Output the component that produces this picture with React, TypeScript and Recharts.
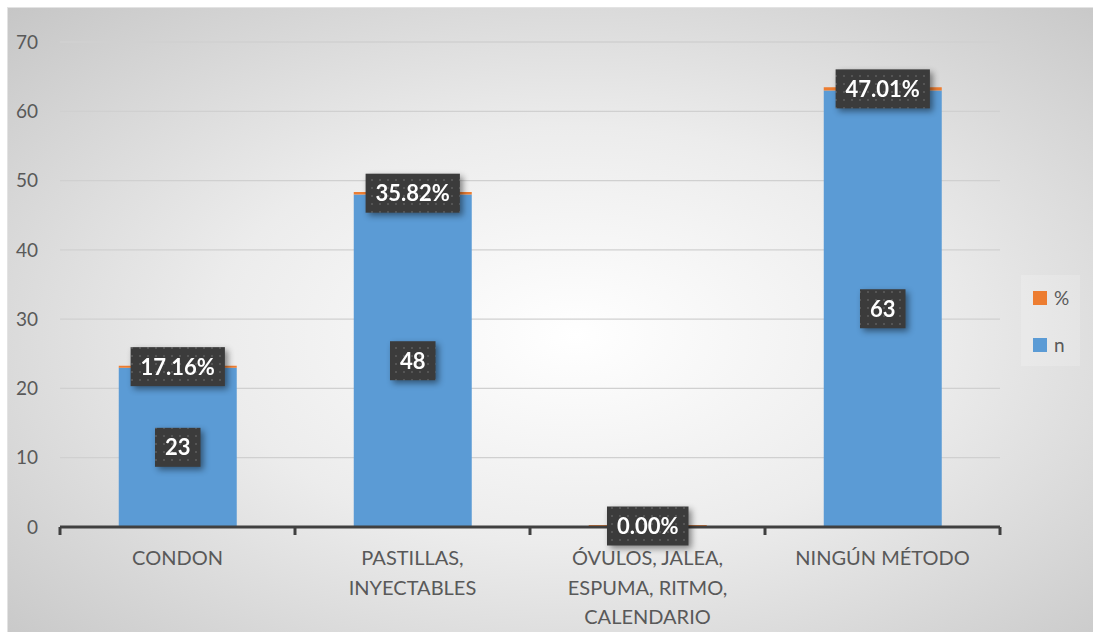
import { BarChart, Bar, XAxis, YAxis, CartesianGrid, LabelList } from 'recharts';

const categories = ['CONDON', 'PASTILLAS, INYECTABLES', 'ÓVULOS, JALEA, ESPUMA, RITMO, CALENDARIO', 'NINGÚN MÉTODO'];
const tickLines = [['CONDON'], ['PASTILLAS,', 'INYECTABLES'], ['ÓVULOS, JALEA,', 'ESPUMA, RITMO,', 'CALENDARIO'], ['NINGÚN MÉTODO']];
const nValues = [23, 48, 0, 63];
const pctValues = [0.1716, 0.3582, 0, 0.4701];
const yTicks = [0, 10, 20, 30, 40, 50, 60, 70];

const FONT = 'Lato, "Open Sans", sans-serif';
const BLUE = '#5b9bd5';
const ORANGE = '#ed7d31';

const data = categories.map((name, i) => ({ name, n: nValues[i], pct: pctValues[i] }));

let canvasCtx: CanvasRenderingContext2D | null = null;
function measure(text: string, font: string): number {
  try {
    if (!canvasCtx) canvasCtx = document.createElement('canvas').getContext('2d');
    if (canvasCtx) {
      canvasCtx.font = font;
      return canvasCtx.measureText(text).width;
    }
  } catch (e) {
    // ignore
  }
  return text.length * 12;
}

let labelSeq = 0;
function DarkLabel(props: any, kind: 'n' | 'pct') {
  const { x, y, width, height, value } = props;
  if (value == null) return null;
  if (kind === 'n' && !value) return null;
  const text = kind === 'pct' ? (Number(value) * 100).toFixed(2) + '%' : String(value);
  const cx = Number(x) + Number(width) / 2;
  const cy = Number(y) + Number(height) / 2;
  const tw = measure(text, `bold 22px ${FONT}`);
  const w = tw + 20;
  const h = 39;
  const id = `dots-${kind}-${labelSeq++}`;
  return (
    <g style={{ filter: 'drop-shadow(3px 3px 3px rgba(0,0,0,0.45))' }}>
      <defs>
        <pattern id={id} width={8} height={8} patternUnits="userSpaceOnUse">
          <rect width={8} height={8} fill="#3b3b3b" />
          <rect x={3} y={3} width={2} height={2} fill="#555555" />
        </pattern>
      </defs>
      <rect x={cx - w / 2} y={cy - h / 2} width={w} height={h} fill={`url(#${id})`} />
      <text
        x={cx}
        y={cy + 8}
        textAnchor="middle"
        fill="#ffffff"
        fontFamily={FONT}
        fontWeight="bold"
        fontSize={22}
      >
        {text}
      </text>
    </g>
  );
}

function CategoryTick(props: any) {
  const { x, payload, index } = props;
  const off = payload && payload.offset ? payload.offset : 117.5;
  const lines = tickLines[index] || [String(payload.value)];
  const axisY = 527;
  return (
    <g>
      <line x1={x - off} x2={x - off} y1={axisY} y2={axisY + 8} stroke="#404040" strokeWidth={3} />
      {index === categories.length - 1 && (
        <line x1={x + off} x2={x + off} y1={axisY} y2={axisY + 8} stroke="#404040" strokeWidth={3} />
      )}
      {lines.map((ln: string, i: number) => (
        <text
          key={i}
          x={x}
          y={axisY + 38 + i * 29.5}
          textAnchor="middle"
          fill="#595959"
          fontFamily={FONT}
          fontSize={20}
        >
          {ln}
        </text>
      ))}
    </g>
  );
}

const legendItems = [
  { label: '%', color: ORANGE },
  { label: 'n', color: BLUE },
];

export default function App() {
  return (
    <div style={{ position: 'absolute', left: 0, top: 0, width: 1093, height: 632, background: '#ffffff', overflow: 'hidden' }}>
      <div
        style={{
          position: 'absolute',
          left: 7,
          top: 7,
          width: 1090,
          height: 630,
          borderLeft: '1px solid #e3e3e3',
          borderTop: '1px solid #e3e3e3',
          background: 'radial-gradient(ellipse at 52% 52%, #ffffff 0%, #ececec 45%, #c6c6c6 100%)',
        }}
      />
      <div style={{ position: 'absolute', left: 0, top: 0 }}>
        <BarChart
          width={1093}
          height={632}
          data={data}
          margin={{ top: 42, right: 93, left: 0, bottom: 75 }}
          barCategoryGap="25%"
          style={{ fontFamily: FONT }}
        >
          <CartesianGrid vertical={false} stroke="#d0d0d0" strokeWidth={1.3} />
          <XAxis
            dataKey="name"
            interval={0}
            height={30}
            tick={<CategoryTick />}
            tickLine={false}
            axisLine={{ stroke: '#404040', strokeWidth: 3 }}
          />
          <YAxis
            domain={[0, 70]}
            ticks={yTicks}
            width={60}
            axisLine={false}
            tickLine={false}
            tickSize={6}
            tickMargin={16}
            tick={{ fill: '#595959', fontSize: 19, fontFamily: FONT }}
          />
          <Bar dataKey="n" stackId="a" fill={BLUE} isAnimationActive={false}>
            <LabelList dataKey="n" content={(p: any) => DarkLabel(p, 'n')} />
          </Bar>
          <Bar dataKey="pct" stackId="a" fill={ORANGE} isAnimationActive={false} minPointSize={2}>
            <LabelList dataKey="pct" content={(p: any) => DarkLabel(p, 'pct')} />
          </Bar>
        </BarChart>
      </div>
      <div
        style={{
          position: 'absolute',
          left: 1021,
          top: 275,
          width: 59,
          height: 91,
          background: 'rgba(255,255,255,0.18)',
          fontFamily: FONT,
          color: '#595959',
          fontSize: 19,
        }}
      >
        {legendItems.map((it, i) => (
          <div key={it.label} style={{ position: 'absolute', left: 12, top: 16 + i * 47, display: 'flex', alignItems: 'center' }}>
            <span style={{ display: 'inline-block', width: 14, height: 14, background: it.color, marginRight: 7 }} />
            <span style={{ lineHeight: '14px' }}>{it.label}</span>
          </div>
        ))}
      </div>
    </div>
  );
}
